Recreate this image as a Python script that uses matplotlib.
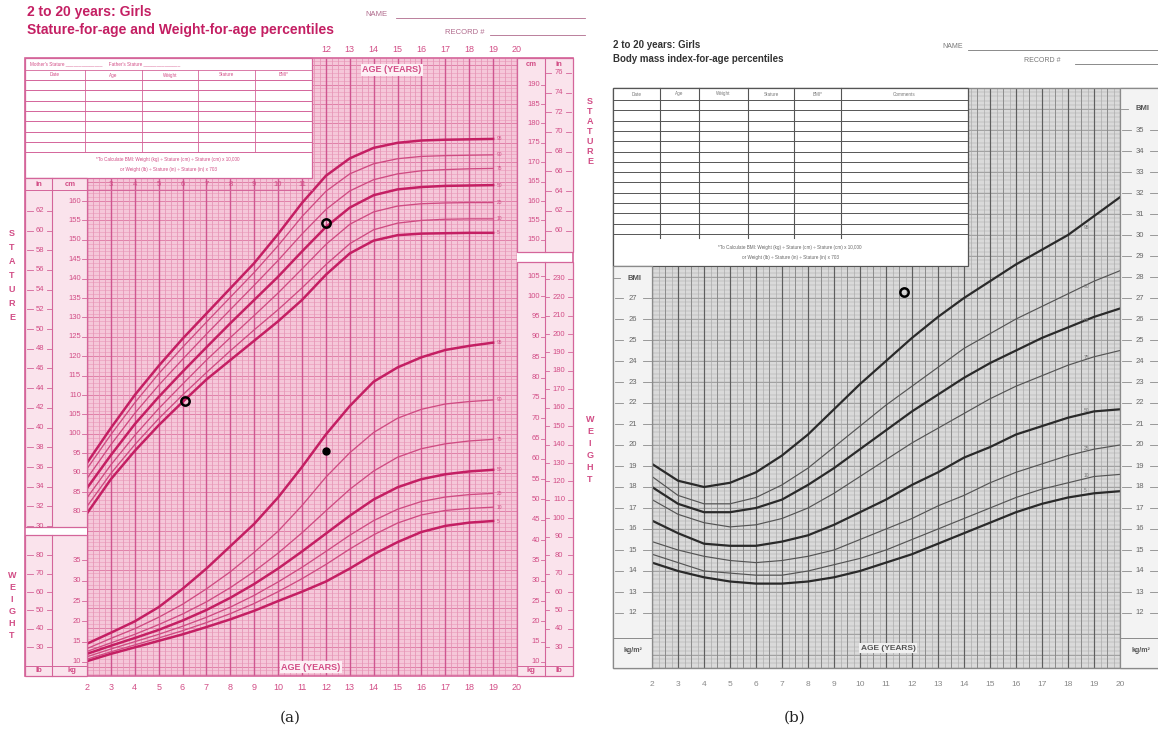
import matplotlib
matplotlib.use('Agg')
import matplotlib.pyplot as plt
from matplotlib.patches import Rectangle
from matplotlib.transforms import blended_transform_factory as blend
import numpy as np

plt.rcParams['font.family'] = ['Liberation Sans', 'DejaVu Sans']

W, H = 1158, 742

# ---------------- data ----------------
pcts_a = [95, 90, 75, 50, 25, 10, 5]
ages_a = list(range(2, 20))

# stature-for-age (cm)
stat_p95 = [92.5, 101.5, 110.0, 117.5, 124.5, 131.0, 137.5, 144.0, 151.5, 159.5, 166.5, 171.0, 173.7, 175.0, 175.6, 175.8, 175.9, 176.0]
stat_p90 = [91.0, 99.8, 108.0, 115.5, 122.3, 128.8, 135.2, 141.6, 148.5, 156.0, 162.5, 167.0, 169.6, 170.9, 171.5, 171.7, 171.8, 171.9]
stat_p75 = [88.5, 97.2, 105.3, 112.5, 119.2, 125.7, 132.0, 138.3, 144.7, 151.5, 157.8, 162.6, 165.5, 167.0, 167.8, 168.1, 168.3, 168.4]
stat_p50 = [86.0, 94.5, 102.5, 109.5, 116.0, 122.3, 128.5, 134.5, 140.5, 147.0, 153.3, 158.3, 161.5, 163.0, 163.6, 163.9, 164.0, 164.1]
stat_p25 = [83.5, 92.0, 99.6, 106.5, 112.8, 119.0, 124.8, 130.5, 136.3, 142.5, 148.8, 154.0, 157.2, 158.7, 159.3, 159.5, 159.6, 159.6]
stat_p10 = [81.3, 89.8, 97.2, 103.9, 110.0, 115.8, 121.4, 126.8, 132.0, 137.6, 143.6, 149.0, 152.6, 154.3, 155.0, 155.3, 155.4, 155.4]
stat_p5 = [79.5, 88.3, 95.6, 102.2, 108.2, 114.0, 119.0, 124.0, 129.0, 134.5, 141.0, 146.5, 149.8, 151.2, 151.6, 151.7, 151.8, 151.8]

# weight-for-age (kg)
wt_p95 = [14.5, 17.2, 20.0, 23.5, 28.0, 33.0, 38.5, 44.0, 50.5, 58.0, 66.0, 73.0, 79.0, 82.5, 85.0, 86.8, 87.8, 88.6]
wt_p90 = [13.3, 15.8, 18.2, 21.0, 24.2, 28.0, 32.2, 37.0, 42.2, 48.5, 55.5, 61.5, 66.5, 70.0, 72.2, 73.5, 74.1, 74.5]
wt_p75 = [12.6, 14.7, 16.8, 19.2, 21.8, 24.8, 28.3, 32.3, 36.8, 41.8, 47.2, 52.5, 57.0, 60.4, 62.5, 63.7, 64.4, 64.8]
wt_p50 = [12.0, 14.0, 15.9, 17.9, 20.2, 22.8, 25.8, 29.2, 33.0, 37.2, 41.6, 46.0, 50.0, 53.0, 55.0, 56.2, 56.9, 57.3]
wt_p25 = [11.3, 13.2, 15.0, 16.8, 18.8, 21.0, 23.5, 26.4, 29.7, 33.3, 37.2, 41.2, 44.8, 47.6, 49.5, 50.6, 51.2, 51.5]
wt_p10 = [10.7, 12.5, 14.2, 15.9, 17.7, 19.7, 21.9, 24.4, 27.3, 30.5, 34.0, 37.8, 41.3, 44.2, 46.2, 47.3, 47.8, 48.1]
wt_p5 = [10.2, 12.0, 13.6, 15.2, 16.8, 18.6, 20.5, 22.6, 25.0, 27.3, 29.8, 33.0, 36.5, 39.5, 42.0, 43.5, 44.3, 44.7]

# BMI-for-age (kg/m2)
pcts_b = [95, 90, 85, 75, 50, 25, 10, 5]
ages_b = list(range(2, 21))
bmi_p95 = [19.1, 18.3, 18.0, 18.2, 18.7, 19.5, 20.5, 21.7, 22.9, 24.0, 25.1, 26.1, 27.0, 27.8, 28.6, 29.3, 30.0, 30.9, 31.8]
bmi_p90 = [18.5, 17.6, 17.2, 17.2, 17.5, 18.1, 18.9, 19.9, 20.9, 21.9, 22.8, 23.7, 24.6, 25.3, 26.0, 26.6, 27.2, 27.8, 28.3]
bmi_p85 = [18.0, 17.2, 16.8, 16.8, 17.0, 17.4, 18.1, 18.9, 19.8, 20.7, 21.6, 22.4, 23.2, 23.9, 24.5, 25.1, 25.6, 26.1, 26.5]
bmi_p75 = [17.4, 16.7, 16.3, 16.1, 16.2, 16.5, 17.0, 17.7, 18.5, 19.3, 20.1, 20.8, 21.5, 22.2, 22.8, 23.3, 23.8, 24.2, 24.5]
bmi_p50 = [16.4, 15.8, 15.3, 15.2, 15.2, 15.4, 15.7, 16.2, 16.8, 17.4, 18.1, 18.7, 19.4, 19.9, 20.5, 20.9, 21.3, 21.6, 21.7]
bmi_p25 = [15.4, 15.0, 14.7, 14.5, 14.4, 14.5, 14.7, 15.0, 15.5, 16.0, 16.5, 17.1, 17.6, 18.2, 18.7, 19.1, 19.5, 19.8, 20.0]
bmi_p10 = [14.8, 14.4, 14.0, 13.9, 13.8, 13.8, 14.0, 14.3, 14.6, 15.0, 15.5, 16.0, 16.5, 17.0, 17.5, 17.9, 18.2, 18.5, 18.6]
bmi_p5 = [14.4, 14.0, 13.7, 13.5, 13.4, 13.4, 13.5, 13.7, 14.0, 14.4, 14.8, 15.3, 15.8, 16.3, 16.8, 17.2, 17.5, 17.7, 17.8]

# plotted measurements of the child
stat_pt_age = [6.1, 12.0]
stat_pt_cm = [108.5, 154.4]
wt_pt_age = [12.0]
wt_pt_kg = [62.0]
bmi_pt_age = [11.7]
bmi_pt_val = [27.3]

stat_curves = [stat_p95, stat_p90, stat_p75, stat_p50, stat_p25, stat_p10, stat_p5]
wt_curves = [wt_p95, wt_p90, wt_p75, wt_p50, wt_p25, wt_p10, wt_p5]
bmi_curves = [bmi_p95, bmi_p90, bmi_p85, bmi_p75, bmi_p50, bmi_p25, bmi_p10, bmi_p5]

# colours
PINK = '#c41f63'
PINK_THIN = '#cf4b82'
PTXT = '#d24d86'
PLINE = '#d4659a'
GREY_TXT = '#666666'
GREY_LINE = '#8a8a8a'

fig = plt.figure(figsize=(W / 100, H / 100), dpi=100)
fig.patch.set_facecolor('white')


def px_axes(x0, y0, x1, y1, z):
    ax = fig.add_axes([x0 / W, 1 - y1 / H, (x1 - x0) / W, (y1 - y0) / H], zorder=z)
    ax.set_xticks([])
    ax.set_yticks([])
    for s in ax.spines.values():
        s.set_visible(False)
    return ax


# ================= panel (a) =================
axA = px_axes(87, 58, 517, 676, 1)
axA.set_xlim(2, 20)
axA.set_ylim(37.58, 196.86)
axA.set_facecolor('#f5c7d9')
axA.hlines(np.arange(38, 197, 1), 2, 20, color='#eb9dbc', lw=0.45)
axA.hlines(np.arange(40, 197, 5), 2, 20, color='#e07fa8', lw=0.65)
axA.vlines(np.arange(2, 20.01, 0.25), 37.58, 196.86, color='#e594b5', lw=0.55)
axA.vlines(np.arange(2, 21, 1), 37.58, 196.86, color='#cf5690', lw=1.0)

axW = axA.twinx()
axW.set_ylim(6.55, 158.66)
axW.set_yticks([])
for s in axW.spines.values():
    s.set_visible(False)

for p, vals in zip(pcts_a, stat_curves):
    thick = p in (95, 50, 5)
    axA.plot(ages_a, vals, color=PINK if thick else PINK_THIN, lw=1.8 if thick else 0.95)
    axA.text(19.15, vals[-1], str(p), fontsize=3.5, color=PTXT, va='center')
for p, vals in zip(pcts_a, wt_curves):
    thick = p in (95, 50, 5)
    axW.plot(ages_a, vals, color=PINK if thick else PINK_THIN, lw=1.8 if thick else 0.95)
    axW.text(19.15, vals[-1], str(p), fontsize=3.5, color=PTXT, va='center')

axA.plot(stat_pt_age, stat_pt_cm, 'o', ms=6, mfc='none', mec='black', mew=1.8)
axW.plot(wt_pt_age, wt_pt_kg, 'o', ms=5, color='black')

# ================= panel (b) =================
axB = px_axes(652, 88, 1120, 668, 1)
axB.set_xlim(2, 20)
axB.set_ylim(27 - (668 - 298) / 21, 37.0)
axB.set_facecolor('#dadada')
axB.hlines(np.arange(9.4, 37.01, 0.2), 2, 20, color='#a9a9a9', lw=0.35)
axB.hlines(np.arange(10, 38, 1), 2, 20, color='#8f8f8f', lw=0.5)
axB.vlines(np.arange(2, 20.01, 0.25), 9.0, 37.0, color='#a8a8a8', lw=0.45)
axB.vlines(np.arange(2.5, 20, 1), 9.0, 37.0, color='#858585', lw=0.6)
axB.vlines(np.arange(2, 21, 1), 9.0, 37.0, color='#5e5e5e', lw=0.85)

for p, vals in zip(pcts_b, bmi_curves):
    thick = p in (95, 85, 50, 5)
    axB.plot(ages_b, vals, color='#2a2a2a' if thick else '#555555', lw=1.6 if thick else 0.85)
    axB.text(18.6, vals[-3] + 0.35, str(p), fontsize=3.5, color='#777777', va='center')

axB.plot(bmi_pt_age, bmi_pt_val, 'o', ms=6, mfc='none', mec='black', mew=1.8)

# ================= overlay (tables, scales, text) =================
ov = px_axes(0, 0, W, H, 5)
ov.set_xlim(0, W)
ov.set_ylim(H, 0)
ov.patch.set_alpha(0)
ov.axis('off')

trSA = blend(ov.transData, axA.transData)
trWA = blend(ov.transData, axW.transData)
trAgeA = blend(axA.transData, ov.transData)
trB = blend(ov.transData, axB.transData)
trAgeB = blend(axB.transData, ov.transData)


def box(x0, y0, x1, y1, fc, ec, lw=0.8):
    ov.add_patch(Rectangle((x0, y0), x1 - x0, y1 - y0, fc=fc, ec=ec, lw=lw))


def hline(y, x0, x1, c, lw=0.6):
    ov.plot([x0, x1], [y, y], color=c, lw=lw)


def vline(x, y0, y1, c, lw=0.6):
    ov.plot([x, x], [y0, y1], color=c, lw=lw)


# --- headers (a)
ov.text(27, 12, '2 to 20 years: Girls', fontsize=10, fontweight='bold', color=PINK, va='center')
ov.text(27, 30, 'Stature-for-age and Weight-for-age percentiles', fontsize=10, fontweight='bold',
        color=PINK, va='center')
ov.text(365, 15, 'NAME', fontsize=5.5, color='#b06a8c', va='center')
hline(18, 396, 585, '#b06a8c', 0.6)
ov.text(445, 32, 'RECORD #', fontsize=5.5, color='#b06a8c', va='center')
hline(35, 490, 585, '#b06a8c', 0.6)

box(25, 58, 573, 676, 'none', PLINE, 1.2)

# data-entry table (a)
box(25, 58, 312, 178, 'white', PLINE, 0.9)
ov.text(30, 64, "Mother's Stature ______________     Father's Stature ______________",
        fontsize=3.3, color=PTXT, va='center')
hline(70, 25, 312, PLINE)
cols_a = [25, 85, 142, 198, 255, 312]
for x in cols_a[1:-1]:
    vline(x, 70, 152, PLINE)
for name, xa, xb in zip(['Date', 'Age', 'Weight', 'Stature', 'BMI*'], cols_a[:-1], cols_a[1:]):
    ov.text((xa + xb) / 2, 75, name, fontsize=3.3, color=PTXT, ha='center', va='center')
for y in np.arange(80, 153, 10.3):
    hline(y, 25, 312, PLINE, 0.7)
ov.text(168, 160, '*To Calculate BMI: Weight (kg) ÷ Stature (cm) ÷ Stature (cm) x 10,000',
        fontsize=3.3, color=PTXT, ha='center', va='center')
ov.text(168, 169, 'or Weight (lb) ÷ Stature (in) ÷ Stature (in) x 703',
        fontsize=3.3, color=PTXT, ha='center', va='center')

hline(190, 25, 312, PLINE, 0.7)
for a in range(3, 12):
    ov.text(a, 184, str(a), transform=trAgeA, fontsize=5.5, color=PTXT, ha='center', va='center')

for a in range(12, 21):
    ov.text(a, 50, str(a), transform=trAgeA, fontsize=6.5, color=PTXT, ha='center', va='center')
for a in range(2, 21):
    ov.text(a, 688, str(a), transform=trAgeA, fontsize=6.5, color=PTXT, ha='center', va='center')

ov.text(392, 70, 'AGE (YEARS)', fontsize=6.5, fontweight='bold', color=PTXT, ha='center', va='center',
        bbox=dict(boxstyle='square,pad=0.15', fc='#fdf0f5', ec='none'))
ov.text(311, 667, 'AGE (YEARS)', fontsize=6.5, fontweight='bold', color=PTXT, ha='center', va='center',
        bbox=dict(boxstyle='square,pad=0.15', fc='#fdf0f5', ec='none'))

# left scale columns (a)
box(25, 178, 87, 527, '#fae3ec', PLINE, 0.9)
box(25, 535, 87, 676, '#fae3ec', PLINE, 0.9)
vline(52, 178, 527, PLINE, 0.8)
vline(52, 535, 676, PLINE, 0.8)
ov.text(39, 184, 'in', fontsize=5.5, fontweight='bold', color=PTXT, ha='center', va='center')
ov.text(70, 184, 'cm', fontsize=5.5, fontweight='bold', color=PTXT, ha='center', va='center')
hline(666, 25, 87, PLINE, 0.7)
ov.text(39, 671, 'lb', fontsize=5.5, fontweight='bold', color=PTXT, ha='center', va='center')
ov.text(72, 671, 'kg', fontsize=5.5, fontweight='bold', color=PTXT, ha='center', va='center')

for v in range(80, 161, 5):
    ov.text(81, v, str(v), transform=trSA, fontsize=5.5, color=PTXT, ha='right', va='center')
    ov.plot([81.5, 87], [v, v], transform=trSA, color=PLINE, lw=0.6)
for v in range(30, 63, 2):
    y = v * 2.54
    ov.text(40, y, str(v), transform=trSA, fontsize=5.5, color=PTXT, ha='center', va='center')
    ov.plot([27, 33], [y, y], transform=trSA, color=PLINE, lw=0.6)
    ov.plot([47, 52], [y, y], transform=trSA, color=PLINE, lw=0.6)
for v in range(10, 36, 5):
    ov.text(81, v, str(v), transform=trWA, fontsize=5.5, color=PTXT, ha='right', va='center')
    ov.plot([81.5, 87], [v, v], transform=trWA, color=PLINE, lw=0.6)
for v in range(30, 81, 10):
    y = v * 0.4536
    ov.text(40, y, str(v), transform=trWA, fontsize=5.5, color=PTXT, ha='center', va='center')
    ov.plot([27, 33], [y, y], transform=trWA, color=PLINE, lw=0.6)
    ov.plot([47, 52], [y, y], transform=trWA, color=PLINE, lw=0.6)

# right scale columns (a)
box(517, 58, 573, 252, '#fae3ec', PLINE, 0.9)
box(517, 262, 573, 676, '#fae3ec', PLINE, 0.9)
vline(545, 58, 252, PLINE, 0.8)
vline(545, 262, 676, PLINE, 0.8)
ov.text(531, 65, 'cm', fontsize=5.5, fontweight='bold', color=PTXT, ha='center', va='center')
ov.text(559, 65, 'in', fontsize=5.5, fontweight='bold', color=PTXT, ha='center', va='center')
hline(666, 517, 573, PLINE, 0.7)
ov.text(531, 671, 'kg', fontsize=5.5, fontweight='bold', color=PTXT, ha='center', va='center')
ov.text(559, 671, 'lb', fontsize=5.5, fontweight='bold', color=PTXT, ha='center', va='center')

for v in range(150, 191, 5):
    ov.text(540, v, str(v), transform=trSA, fontsize=5.5, color=PTXT, ha='right', va='center')
    ov.plot([540.5, 545], [v, v], transform=trSA, color=PLINE, lw=0.6)
for v in range(60, 77, 2):
    y = v * 2.54
    ov.text(559, y, str(v), transform=trSA, fontsize=5.5, color=PTXT, ha='center', va='center')
    ov.plot([545, 551], [y, y], transform=trSA, color=PLINE, lw=0.6)
    ov.plot([566, 571], [y, y], transform=trSA, color=PLINE, lw=0.6)
for v in range(10, 106, 5):
    ov.text(540, v, str(v), transform=trWA, fontsize=5.5, color=PTXT, ha='right', va='center')
    ov.plot([540.5, 545], [v, v], transform=trWA, color=PLINE, lw=0.6)
for v in range(30, 231, 10):
    y = v * 0.4536
    ov.text(559, y, str(v), transform=trWA, fontsize=5.5, color=PTXT, ha='center', va='center')
    ov.plot([545, 549], [y, y], transform=trWA, color=PLINE, lw=0.6)
    ov.plot([568, 572], [y, y], transform=trWA, color=PLINE, lw=0.6)

# vertical captions (a)
for i, ch in enumerate('STATURE'):
    ov.text(12, 234 + 14 * i, ch, fontsize=6.5, fontweight='bold', color=PTXT, ha='center', va='center')
    ov.text(590, 102 + 10 * i, ch, fontsize=6.5, fontweight='bold', color=PTXT, ha='center', va='center')
for i, ch in enumerate('WEIGHT'):
    ov.text(12, 576 + 12 * i, ch, fontsize=6.5, fontweight='bold', color=PTXT, ha='center', va='center')
    ov.text(590, 420 + 12 * i, ch, fontsize=6.5, fontweight='bold', color=PTXT, ha='center', va='center')

# --- headers (b)
ov.text(613, 45, '2 to 20 years: Girls', fontsize=7, fontweight='bold', color='#333333', va='center')
ov.text(613, 59, 'Body mass index-for-age percentiles', fontsize=7, fontweight='bold', color='#333333',
        va='center')
ov.text(942, 47, 'NAME', fontsize=5, color='#777777', va='center')
hline(50, 968, 1158, '#777777', 0.6)
ov.text(1024, 61, 'RECORD #', fontsize=5, color='#777777', va='center')
hline(64, 1075, 1158, '#777777', 0.6)

box(613, 88, 1170, 668, 'none', GREY_LINE, 1.0)

# data-entry table (b)
box(613, 88, 968, 266, 'white', '#555555', 0.9)
cols_b = [613, 660, 699, 748, 794, 841, 968]
for x in cols_b[1:-1]:
    vline(x, 88, 238, '#555555', 0.8)
for name, xa, xb in zip(['Date', 'Age', 'Weight', 'Stature', 'BMI*', 'Comments'], cols_b[:-1], cols_b[1:]):
    ov.text((xa + xb) / 2, 94, name, fontsize=3.3, color='#777777', ha='center', va='center')
for y in np.arange(100, 239, 10.3):
    hline(y, 613, 968, '#555555', 0.7)
ov.text(790, 248, '*To Calculate BMI: Weight (kg) ÷ Stature (cm) ÷ Stature (cm) x 10,000',
        fontsize=3.3, color='#666666', ha='center', va='center')
ov.text(790, 257, 'or Weight (lb) ÷ Stature (in) ÷ Stature (in) x 703',
        fontsize=3.3, color='#666666', ha='center', va='center')

# scale columns (b)
box(613, 266, 652, 668, '#f3f3f3', GREY_LINE, 0.9)
box(1120, 88, 1170, 668, '#f3f3f3', GREY_LINE, 0.9)
hline(638, 613, 652, GREY_LINE, 0.7)
hline(638, 1120, 1158, GREY_LINE, 0.7)
ov.text(634, 278, 'BMI', fontsize=5.5, fontweight='bold', color='#555555', ha='center', va='center')
ov.plot([614, 620], [278, 278], color=GREY_LINE, lw=0.6)
ov.text(1143, 109, 'BMI', fontsize=5.5, fontweight='bold', color='#555555', ha='center', va='center')
ov.plot([1121, 1128], [109, 109], color=GREY_LINE, lw=0.6)
ov.text(633, 650, 'kg/m²', fontsize=5, fontweight='bold', color='#555555', ha='center', va='center')
ov.text(1141, 650, 'kg/m²', fontsize=5, fontweight='bold', color='#555555', ha='center', va='center')
for v in range(12, 28):
    ov.text(633, v, str(v), transform=trB, fontsize=5.5, color=GREY_TXT, ha='center', va='center')
    ov.plot([615, 623], [v, v], transform=trB, color=GREY_LINE, lw=0.6)
    ov.plot([643, 652], [v, v], transform=trB, color=GREY_LINE, lw=0.6)
for v in range(12, 36):
    ov.text(1140, v, str(v), transform=trB, fontsize=5.5, color=GREY_TXT, ha='center', va='center')
    ov.plot([1122, 1131], [v, v], transform=trB, color=GREY_LINE, lw=0.6)
    ov.plot([1150, 1158], [v, v], transform=trB, color=GREY_LINE, lw=0.6)

for a in range(2, 21):
    ov.text(a, 684, str(a), transform=trAgeB, fontsize=6, color='#888888', ha='center', va='center')
ov.text(888, 648, 'AGE (YEARS)', fontsize=6, fontweight='bold', color='#555555', ha='center', va='center',
        bbox=dict(boxstyle='square,pad=0.15', fc='#f0f0f0', ec='none'))

# panel letters
ov.text(290, 718, '(a)', fontsize=11, family='DejaVu Serif', color='#222222', ha='center', va='center')
ov.text(795, 718, '(b)', fontsize=11, family='DejaVu Serif', color='#222222', ha='center', va='center')

fig.savefig('out.png', dpi=100)
